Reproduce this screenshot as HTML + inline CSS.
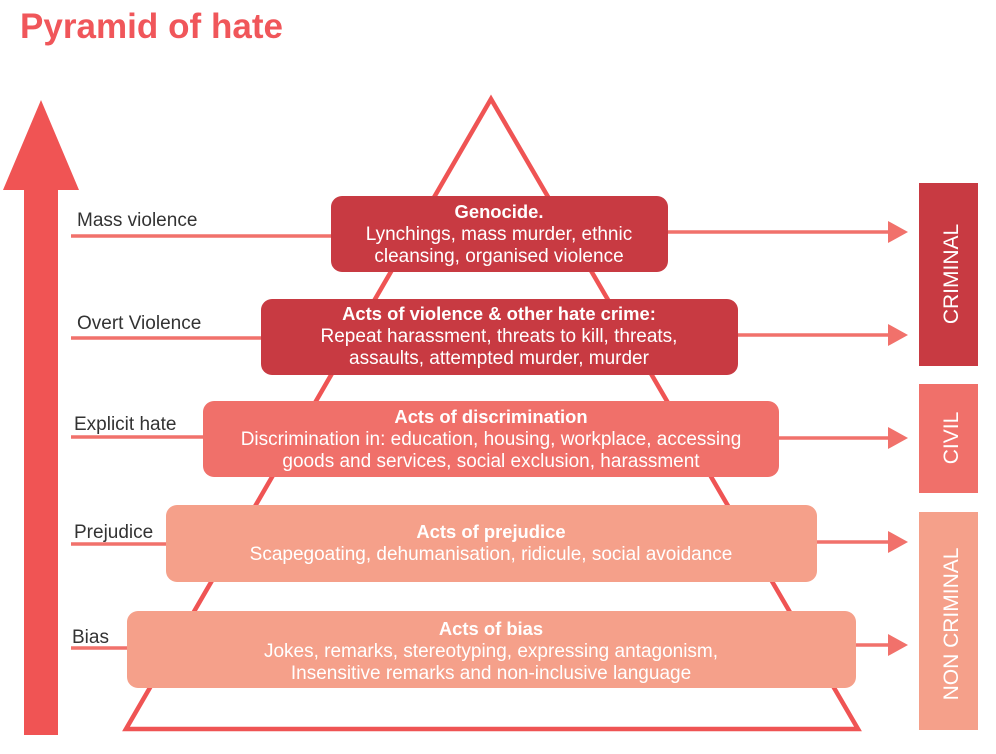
<!DOCTYPE html>
<html><head><meta charset="utf-8"><style>
body{margin:0;background:#fff;}
svg text{font-family:"Liberation Sans",sans-serif;}
</style></head><body>
<svg width="996" height="749" viewBox="0 0 996 749" xmlns="http://www.w3.org/2000/svg">
<text x="20" y="38" font-size="35" font-weight="bold" fill="#f0565a" textLength="263">Pyramid of hate</text>
<polygon points="41,100 79,190 58,190 58,735 24,735 24,190 3,190" fill="#f05454"/>
<polygon points="491,99 858,729 126,729" fill="none" stroke="#ef5454" stroke-width="4.5" stroke-linejoin="miter"/>
<g stroke="#f1716b" stroke-width="3.5">
<line x1="71" y1="236" x2="335" y2="236"/>
<line x1="71" y1="338" x2="265" y2="338"/>
<line x1="71" y1="437" x2="207" y2="437"/>
<line x1="71" y1="544" x2="170" y2="544"/>
<line x1="71" y1="648" x2="131" y2="648"/>
<line x1="664" y1="232" x2="892" y2="232"/>
<line x1="734" y1="335" x2="892" y2="335"/>
<line x1="775" y1="438" x2="892" y2="438"/>
<line x1="813" y1="542" x2="892" y2="542"/>
<line x1="852" y1="645" x2="892" y2="645"/>
</g>
<g fill="#f1716b">
<polygon points="888,221 908,232 888,243"/>
<polygon points="888,324 908,335 888,346"/>
<polygon points="888,427 908,438 888,449"/>
<polygon points="888,531 908,542 888,553"/>
<polygon points="888,634 908,645 888,656"/>
</g>
<g font-size="19" fill="#333">
<text x="77" y="226">Mass violence</text>
<text x="77" y="329">Overt Violence</text>
<text x="74" y="430">Explicit hate</text>
<text x="74" y="538">Prejudice</text>
<text x="72" y="643">Bias</text>
</g>
<rect x="331" y="196" width="337" height="76" rx="11" fill="#c83a42"/>
<rect x="261" y="299" width="477" height="76" rx="11" fill="#c83a42"/>
<rect x="203" y="401" width="576" height="76" rx="11" fill="#f0706a"/>
<rect x="166" y="505" width="651" height="77" rx="11" fill="#f5a08a"/>
<rect x="127" y="611" width="729" height="77" rx="11" fill="#f5a08a"/>
<g fill="#fff" font-size="19" text-anchor="middle">
<text x="499" y="218" font-weight="bold" font-size="18.4">Genocide.</text>
<text x="499" y="240">Lynchings, mass murder, ethnic</text>
<text x="499" y="262">cleansing, organised violence</text>
<text x="499" y="320" font-weight="bold" font-size="18.4">Acts of violence &amp; other hate crime:</text>
<text x="499" y="342">Repeat harassment, threats to kill, threats,</text>
<text x="499" y="364">assaults, attempted murder, murder</text>
<text x="491" y="423" font-weight="bold" font-size="18.4">Acts of discrimination</text>
<text x="491" y="445">Discrimination in: education, housing, workplace, accessing</text>
<text x="491" y="467">goods and services, social exclusion, harassment</text>
<text x="491" y="538" font-weight="bold" font-size="18.4">Acts of prejudice</text>
<text x="491" y="560">Scapegoating, dehumanisation, ridicule, social avoidance</text>
<text x="491" y="635" font-weight="bold" font-size="18.4">Acts of bias</text>
<text x="491" y="657">Jokes, remarks, stereotyping, expressing antagonism,</text>
<text x="491" y="679">Insensitive remarks and non-inclusive language</text>
</g>
<rect x="919" y="183" width="59" height="183" fill="#c83a42"/>
<rect x="919" y="384" width="59" height="109" fill="#f0706a"/>
<rect x="919" y="512" width="59" height="218" fill="#f5a08a"/>
<g fill="#fff" font-size="21" text-anchor="middle">
<text transform="translate(958,274) rotate(-90)">CRIMINAL</text>
<text transform="translate(958,438) rotate(-90)">CIVIL</text>
<text transform="translate(958,624) rotate(-90)">NON CRIMINAL</text>
</g>
</svg>
</body></html>
